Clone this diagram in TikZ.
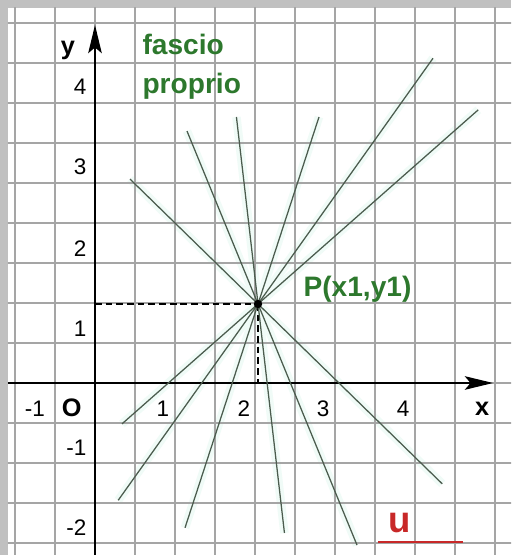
\documentclass[tikz,border=0pt]{standalone}
\usepackage{fontspec}
\setmainfont{Liberation Sans}
\usetikzlibrary{arrows.meta}
\definecolor{framegray}{RGB}{192,192,192}
\definecolor{gridgray}{RGB}{165,165,165}
\definecolor{pencil}{RGB}{75,92,78}
\definecolor{halo}{RGB}{240,251,247}
\definecolor{labgreen}{RGB}{45,120,45}
\definecolor{ured}{RGB}{200,40,40}
\begin{document}
\begin{tikzpicture}[x=1cm,y=1cm,
  gridline/.style={gridgray, line width=0.5pt},
  axisline/.style={black, line width=0.8pt, -{Stealth[length=10pt,width=4.8pt,inset=2pt]}},
  pencilline/.style={pencil, line width=0.45pt},
  haloline/.style={halo, line width=3pt},
  guide/.style={black, line width=0.8pt, dash pattern=on 2.4pt off 1.4pt},
  ticklab/.style={font=\fontsize{8}{9}\selectfont, text=black, inner sep=0pt},
  axislab/.style={font=\fontsize{9}{10}\selectfont\bfseries, text=black, inner sep=0pt},
  greenlab/.style={font=\fontsize{10}{11}\selectfont\bfseries, text=labgreen, inner sep=0pt}
]
% frame and paper
\useasboundingbox (-1.1875,-2.15) rectangle (5.2,4.7875);
\fill[framegray] (-1.1875,-2.15) rectangle (5.2,4.7875);
\fill[white] (-1.0875,-2.15) rectangle (5.2,4.6875);

% point P
\coordinate (P) at (2.0375,0.9875);

% line ends
\coordinate (a1) at (0.4375,2.549);  \coordinate (b1) at (4.34,-1.26);
\coordinate (a2) at (1.15,3.149);    \coordinate (b2) at (3.275,-2.026);
\coordinate (a3) at (1.768,3.325);   \coordinate (b3) at (2.368,-1.875);
\coordinate (a4) at (2.80,3.325);    \coordinate (b4) at (1.125,-1.81);
\coordinate (a5) at (4.225,4.059);   \coordinate (b5) at (0.29,-1.466);
\coordinate (a6) at (4.79,3.414);    \coordinate (b6) at (0.3375,-0.511);

\foreach \i in {1,...,6} \draw[haloline] (a\i) -- (b\i);

\begin{scope}
  \clip (-1.0875,-2.15) rectangle (5.2,4.6875);
  \draw[gridline] (-1.5,-2.5) grid[step=0.5] (5.5,5);
\end{scope}

% axes
\coordinate (xs) at (-1.0875,0); \coordinate (xe) at (4.975,0);
\coordinate (ys) at (0,-2.15);   \coordinate (ye) at (0,4.475);
\draw[axisline] (xs) -- (xe);
\draw[axisline] (ys) -- (ye);

% dashed projections
\coordinate (Py) at (0,0.9875);
\coordinate (Px) at (2.0375,0);
\draw[guide] (Py) -- (P);
\draw[guide] (P) -- (Px);

% the pencil of lines
\foreach \i in {1,...,6} \draw[pencilline] (a\i) -- (b\i);
\fill[black] (P) circle (1.5pt);

% tick labels on y axis
\node[ticklab, anchor=base east] (ly4) at (-0.1,3.6) {4};
\node[ticklab, anchor=base east] (ly3) at (-0.1,2.6) {3};
\node[ticklab, anchor=base east] (ly2) at (-0.1,1.58) {2};
\node[ticklab, anchor=base east] (ly1) at (-0.1,0.58) {1};
\node[ticklab, anchor=base east] (lym1) at (-0.1,-0.9) {-1};
\node[ticklab, anchor=base east] (lym2) at (-0.1,-1.9) {-2};

% tick labels on x axis
\node[ticklab, anchor=base] (lxm1) at (-0.75,-0.42) {-1};
\node[axislab, anchor=base] (lO) at (-0.29,-0.42) {O};
\node[ticklab, anchor=base] (lx1) at (0.85,-0.42) {1};
\node[ticklab, anchor=base] (lx2) at (1.86,-0.42) {2};
\node[ticklab, anchor=base] (lx3) at (2.85,-0.42) {3};
\node[ticklab, anchor=base] (lx4) at (3.85,-0.42) {4};

% axis names
\node[axislab, anchor=base] (lx) at (4.84,-0.4) {x};
\node[axislab, anchor=base] (ly) at (-0.34,4.1) {y};

% green labels
\node[greenlab, anchor=base west] (t1) at (0.5875,4.1) {fascio};
\node[greenlab, anchor=base west] (t2) at (0.5875,3.6125) {proprio};
\node[greenlab, anchor=base west] (tP) at (2.6,1.079) {P(x1,y1)};

% unit
\node[font=\fontsize{13}{14}\selectfont\bfseries, text=ured, inner sep=0pt, anchor=base] (u) at (3.8125,-1.8625) {u};
\coordinate (us) at (3.54,-1.9875); \coordinate (ue) at (4.6,-1.9875);
\draw[ured, line width=0.8pt] (us) -- (ue);
\end{tikzpicture}
\end{document}
